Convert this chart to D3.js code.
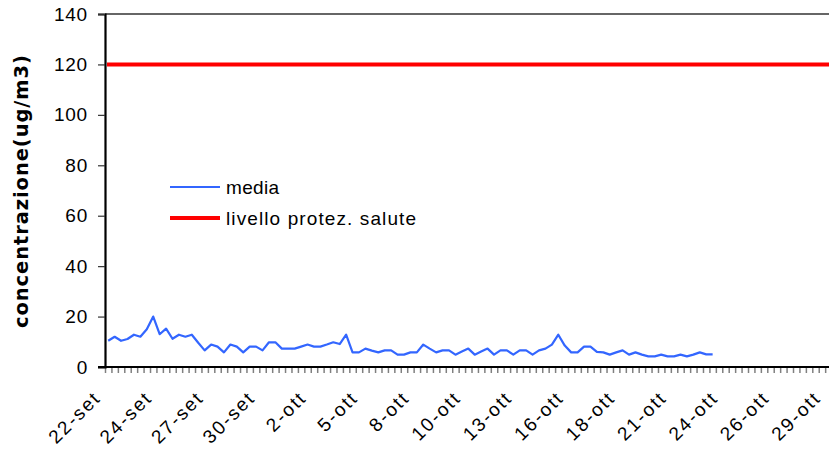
<!DOCTYPE html>
<html>
<head>
<meta charset="utf-8">
<script src="https://cdn.jsdelivr.net/npm/d3@7"></script>
<style>
  html, body { margin: 0; padding: 0; background: #fff; }
  svg { display: block; }
  text { font-family: "Liberation Sans", Arial, sans-serif; fill: #000; }
</style>
</head>
<body>
<svg id="chart" width="829" height="450"></svg>
<script>
// ---- data ----
const nCategories = 120;           // 8-hour slots from 22-set to 31-ott
const tickEvery = 8;
const tickLabels = ["22-set","24-set","27-set","30-set","2-ott","5-ott","8-ott","10-ott",
                    "13-ott","16-ott","18-ott","21-ott","24-ott","26-ott","29-ott"];
const media = [
  10.4, 12.0, 10.4, 11.1, 12.8, 12.0, 15.0, 20.0, 13.0, 15.2,
  11.2, 12.8, 12.0, 12.8,  9.6,  6.6,  8.9,  8.1,  5.8,  8.9,
   8.1,  5.8,  8.1,  8.1,  6.6,  9.8,  9.8,  7.3,  7.3,  7.3,
   8.1,  8.9,  8.1,  8.1,  8.9,  9.8,  9.1, 12.8,  5.8,  5.8,
   7.3,  6.5,  5.8,  6.6,  6.6,  4.9,  4.9,  5.8,  5.8,  8.9,
   7.3,  5.8,  6.6,  6.6,  4.9,  6.1,  7.3,  4.9,  6.1,  7.3,
   4.9,  6.6,  6.6,  4.9,  6.6,  6.6,  4.9,  6.6,  7.3,  8.9,
  12.8,  8.5,  5.8,  5.8,  8.1,  8.1,  6.0,  5.8,  4.9,  5.8,
   6.6,  4.9,  5.8,  4.9,  4.2,  4.2,  4.9,  4.2,  4.2,  4.9,
   4.2,  4.9,  5.8,  5.0,  5.0
];
const livello = 120;
const yTicks = [0, 20, 40, 60, 80, 100, 120, 140];
const seriesNames = ["media", "livello protez. salute"];
const seriesColors = ["#3366ff", "#ff0000"];

// ---- layout ----
const svg = d3.select("#chart");
const plotLeft = 105, plotTop = 14, plotBottom = 367, catW = 6.43;

const x = d3.scaleLinear().domain([0, nCategories]).range([plotLeft, plotLeft + nCategories * catW]);
const y = d3.scaleLinear().domain([0, 140]).range([plotBottom, plotTop]);

// top border
svg.append("line")
  .attr("x1", plotLeft).attr("x2", 829).attr("y1", y(140)).attr("y2", y(140))
  .attr("stroke", "#333").attr("stroke-width", 1.5);

// x axis minor ticks
const xAxis = svg.append("g").attr("transform", `translate(0,${plotBottom})`)
  .call(d3.axisBottom(x).tickValues(d3.range(0, nCategories + 1)).tickSize(6).tickFormat(""));
xAxis.select(".domain").remove();
xAxis.selectAll(".tick line").attr("stroke", "#808080").attr("stroke-width", 1.5);

// x labels
svg.append("g").selectAll("text")
  .data(tickLabels)
  .join("text")
  .attr("transform", (d, i) => `translate(${x(i * tickEvery) - 3},${plotBottom + 32}) rotate(-45)`)
  .attr("text-anchor", "end")
  .style("font-size", "19px")
  .style("letter-spacing", "2px")
  .text(d => d);

// y axis
const yAxis = svg.append("g").attr("transform", `translate(${plotLeft},0)`)
  .call(d3.axisLeft(y).tickValues(yTicks).tickSize(7).tickPadding(10));
yAxis.select(".domain").attr("stroke", "#000").attr("stroke-width", 2.2);
yAxis.selectAll(".tick line").attr("stroke", "#333").attr("stroke-width", 1.2);
yAxis.selectAll(".tick text")
  .style("font-size", "19px").style("letter-spacing", "0.8px")
  .attr("font-family", "Liberation Sans, Arial, sans-serif").attr("fill", "#000");

// x axis baseline
svg.append("line")
  .attr("x1", plotLeft - 7).attr("x2", 829).attr("y1", plotBottom).attr("y2", plotBottom)
  .attr("stroke", "#000").attr("stroke-width", 2.2);

// y title
svg.append("text")
  .attr("transform", `translate(28,${(55 + 328) / 2}) rotate(-90)`)
  .attr("text-anchor", "middle")
  .style("font-family", "'DejaVu Sans', Verdana, sans-serif")
  .style("font-size", "19.5px").style("font-weight", "bold")
  .attr("textLength", 273).attr("lengthAdjust", "spacing")
  .text("concentrazione(ug/m3)");

// reference level line
svg.append("line")
  .attr("x1", plotLeft + 2).attr("x2", 829).attr("y1", y(livello)).attr("y2", y(livello))
  .attr("stroke", seriesColors[1]).attr("stroke-width", 4);

// media line
const line = d3.line().x((d, i) => x(i + 0.5)).y(d => y(d));
svg.append("path")
  .datum(media)
  .attr("d", line)
  .attr("fill", "none")
  .attr("stroke", seriesColors[0])
  .attr("stroke-width", 2.2)
  .attr("stroke-linejoin", "round");

// legend
const legend = svg.append("g");
const legendRows = [
  { name: seriesNames[0], color: seriesColors[0], w: 2, y: 187, len: 53 },
  { name: seriesNames[1], color: seriesColors[1], w: 4, y: 218, len: 190 }
];
legendRows.forEach(r => {
  legend.append("line").attr("x1", 170).attr("x2", 220).attr("y1", r.y).attr("y2", r.y)
    .attr("stroke", r.color).attr("stroke-width", r.w);
  legend.append("text").attr("x", 226).attr("y", r.y + 7)
    .style("font-size", "19px")
    .attr("textLength", r.len).attr("lengthAdjust", "spacing")
    .text(r.name);
});
</script>
</body>
</html>
